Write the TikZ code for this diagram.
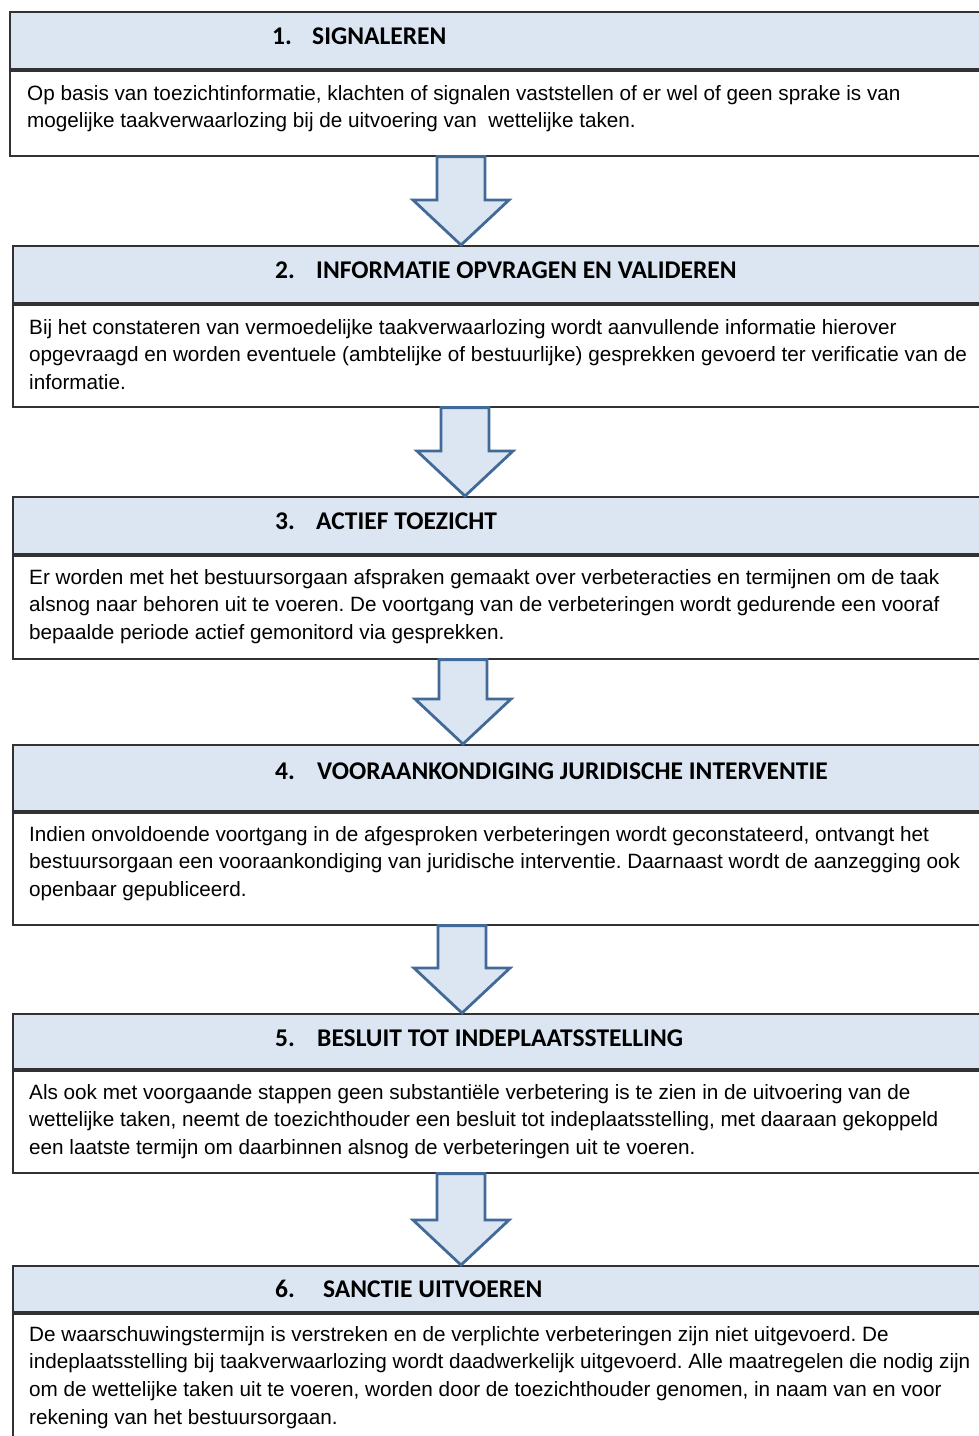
\documentclass[tikz,border=0pt]{standalone}
\usepackage{fontspec}
\setmainfont{Liberation Sans}
\newfontfamily\headfont{Carlito}
\usetikzlibrary{calc}

\definecolor{headblue}{RGB}{220,230,242}
\definecolor{arrowblue}{RGB}{66,106,152}
\definecolor{framegray}{RGB}{50,50,50}

\tikzset{
	headbox/.style={rectangle, draw=framegray, line width=1.8pt, fill=headblue, anchor=north west, minimum width=1100pt, inner sep=0pt},
	bodybox/.style={rectangle, draw=framegray, line width=1.8pt, fill=white, anchor=north west, minimum width=1100pt, inner sep=0pt},
	headtext/.style={anchor=base west, inner sep=0pt, font=\headfont\bfseries\fontsize{25.5}{28}\selectfont},
	bodytext/.style={anchor=north west, inner sep=0pt, align=left, font=\frenchspacing\fontsize{20.7}{27.6}\selectfont},
	steparrow/.style={draw=arrowblue, line width=2.8pt, fill=headblue, line join=miter}
}

% block arrow between two steps: x position, upper box, lower box
\newcommand{\stepArrow}[3]{%
	\draw[steparrow] let \p1=(#2.south), \p2=(#3.north) in
		(#1pt-24pt,\y1) -- (#1pt+24pt,\y1) -- (#1pt+24pt,\y2+45pt) -- (#1pt+48pt,\y2+45pt)
		-- (#1pt,\y2) -- (#1pt-48pt,\y2+45pt) -- (#1pt-24pt,\y2+45pt) -- cycle;
}

\begin{document}
\begin{tikzpicture}[x=1pt, y=1pt]
		\useasboundingbox (0,0) rectangle (979,-1436);
		\clip (0,0) rectangle (979,-1436);
		
		% Step 1
		\node[headbox, minimum height=57pt] (h1) at (9,-11) {};
		\node[bodybox, minimum height=85pt] (b1) at (h1.south west) {};
		\node[headtext] (n1) at (272,-44) {1.};
		\node[headtext] (l1) at (312,-44) {SIGNALEREN};
		\node[bodytext] (t1) at (27,-85) {Op basis van toezichtinformatie, klachten of signalen vaststellen of er wel of geen sprake is van\\
			mogelijke taakverwaarlozing bij de uitvoering van~ wettelijke taken.};
		
		% Step 2
		\node[headbox, minimum height=57pt] (h2) at (12,-245) {};
		\node[bodybox, minimum height=102pt] (b2) at (h2.south west) {};
		\node[headtext] (n2) at (275,-278) {2.};
		\node[headtext] (l2) at (316,-278) {INFORMATIE OPVRAGEN EN VALIDEREN};
		\node[bodytext] (t2) at (29,-319) {Bij het constateren van vermoedelijke taakverwaarlozing wordt aanvullende informatie hierover\\
			opgevraagd en worden eventuele (ambtelijke of bestuurlijke) gesprekken gevoerd ter verificatie van de\\
			informatie.};
		
		% Step 3
		\node[headbox, minimum height=57pt] (h3) at (12,-496) {};
		\node[bodybox, minimum height=103pt] (b3) at (h3.south west) {};
		\node[headtext] (n3) at (275,-529) {3.};
		\node[headtext] (l3) at (316,-529) {ACTIEF TOEZICHT};
		\node[bodytext] (t3) at (29,-569) {Er worden met het bestuursorgaan afspraken gemaakt over verbeteracties en termijnen om de taak\\
			alsnog naar behoren uit te voeren. De voortgang van de verbeteringen wordt gedurende een vooraf\\
			bepaalde periode actief gemonitord via gesprekken.};
		
		% Step 4
		\node[headbox, minimum height=66pt] (h4) at (12,-744) {};
		\node[bodybox, minimum height=112pt] (b4) at (h4.south west) {};
		\node[headtext] (n4) at (275,-779) {4.};
		\node[headtext] (l4) at (317,-779) {VOORAANKONDIGING JURIDISCHE INTERVENTIE};
		\node[bodytext] (t4) at (29,-826) {Indien onvoldoende voortgang in de afgesproken verbeteringen wordt geconstateerd, ontvangt het\\
			bestuursorgaan een vooraankondiging van juridische interventie. Daarnaast wordt de aanzegging ook\\
			openbaar gepubliceerd.};
		
		% Step 5
		\node[headbox, minimum height=55pt] (h5) at (12,-1013) {};
		\node[bodybox, minimum height=102pt] (b5) at (h5.south west) {};
		\node[headtext] (n5) at (275,-1046) {5.};
		\node[headtext] (l5) at (317,-1046) {BESLUIT TOT INDEPLAATSSTELLING};
		\node[bodytext] (t5) at (29,-1084) {Als ook met voorgaande stappen geen substanti\"ele verbetering is te zien in de uitvoering van de\\
			wettelijke taken, neemt de toezichthouder een besluit tot indeplaatsstelling, met daaraan gekoppeld\\
			een laatste termijn om daarbinnen alsnog de verbeteringen uit te voeren.};
		
		% Step 6
		\node[headbox, minimum height=46pt] (h6) at (12,-1265) {};
		\node[bodybox, minimum height=160pt] (b6) at (h6.south west) {};
		\node[headtext] (n6) at (275,-1297) {6.};
		\node[headtext] (l6) at (323,-1297) {SANCTIE UITVOEREN};
		\node[bodytext] (t6) at (29,-1326) {De waarschuwingstermijn is verstreken en de verplichte verbeteringen zijn niet uitgevoerd. De\\
			indeplaatsstelling bij taakverwaarlozing wordt daadwerkelijk uitgevoerd. Alle maatregelen die nodig zijn\\
			om de wettelijke taken uit te voeren, worden door de toezichthouder genomen, in naam van en voor\\
			rekening van het bestuursorgaan.};
		
		% Arrows between the steps
		\stepArrow{461}{b1}{h2}
		\stepArrow{465}{b2}{h3}
		\stepArrow{463}{b3}{h4}
		\stepArrow{462}{b4}{h5}
		\stepArrow{461}{b5}{h6}
	\end{tikzpicture}
\end{document}
